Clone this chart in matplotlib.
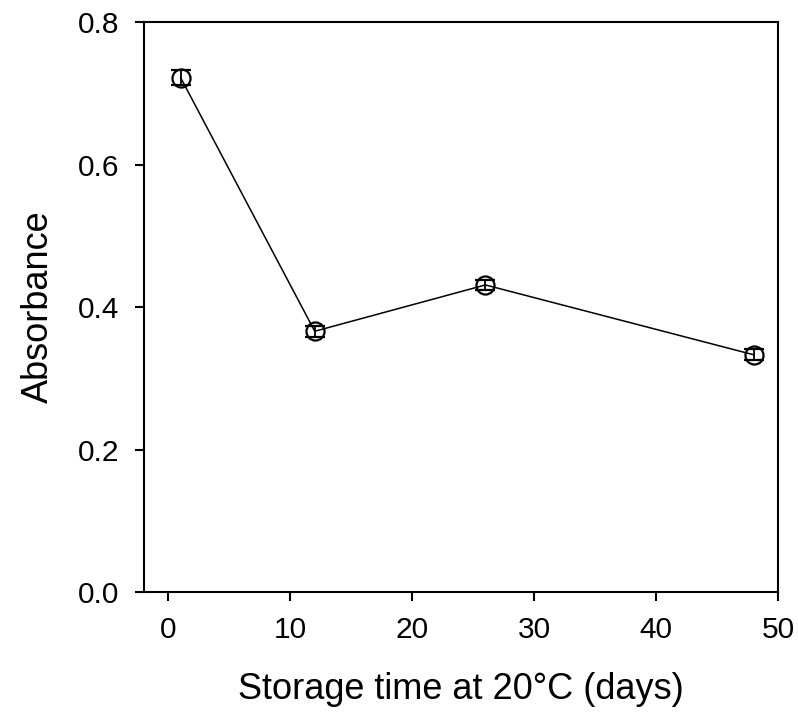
import numpy as np
import matplotlib.pyplot as plt

plt.rcParams['font.family'] = ['Liberation Sans', 'DejaVu Sans']

# Data
days = [1, 12, 26, 48]
absorbance = [0.722, 0.366, 0.431, 0.333]
err = [0.010, 0.008, 0.007, 0.008]

fig = plt.figure(figsize=(7.98, 7.22), dpi=100)
ax = fig.add_axes([0.1805, 0.180, 0.7945, 0.7895])

ax.errorbar(days, absorbance, yerr=err, color='black', linewidth=1.1,
            marker='o', markersize=13, markerfacecolor='none',
            markeredgecolor='black', markeredgewidth=1.6,
            ecolor='black', elinewidth=1.3, capsize=7, capthick=1.3)

ax.set_xlim(-2, 50)
ax.set_ylim(0, 0.8)
ax.set_xticks([0, 10, 20, 30, 40, 50])
ax.set_yticks([0.0, 0.2, 0.4, 0.6, 0.8])
ax.set_yticklabels(['0.0', '0.2', '0.4', '0.6', '0.8'])

for s in ax.spines.values():
    s.set_linewidth(1.5)
ax.tick_params(direction='out', length=6.5, width=1.5, labelsize=21.5,
               colors='black')
ax.tick_params(axis='y', pad=11)
ax.tick_params(axis='x', pad=11)

ax.set_xlabel('Storage time at 20°C (days)', fontsize=26, labelpad=20)
ax.set_ylabel('Absorbance', fontsize=26, labelpad=16)

fig.savefig('out.png', dpi=100)
